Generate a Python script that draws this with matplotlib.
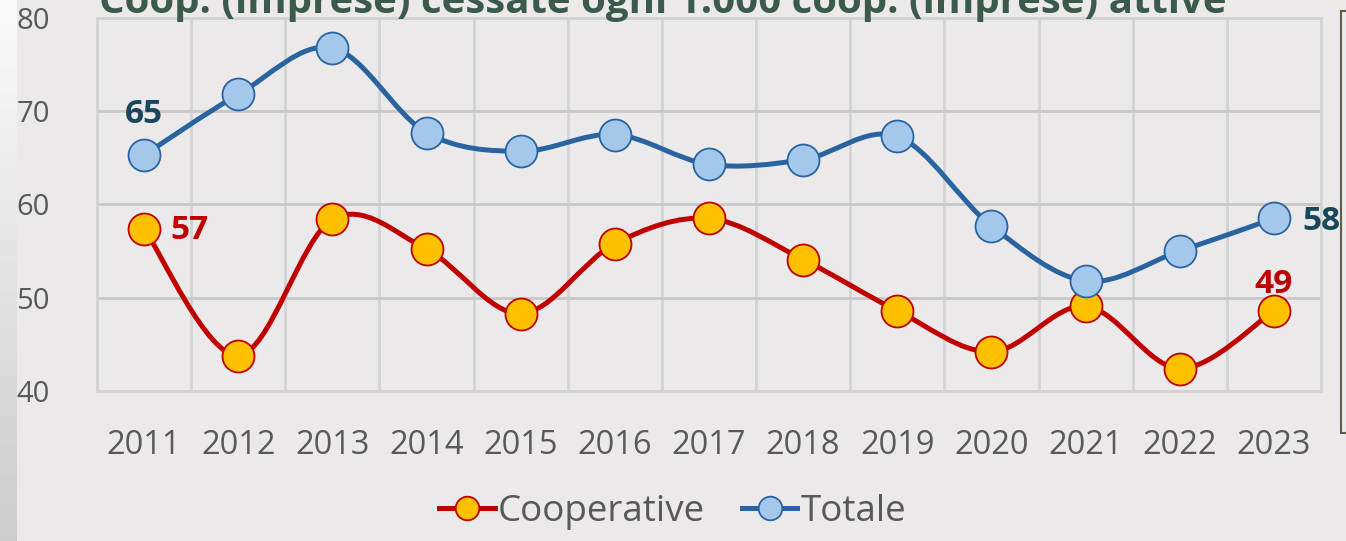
import numpy as np
import matplotlib
matplotlib.use('Agg')
import matplotlib.pyplot as plt
from matplotlib.path import Path
from matplotlib.patches import PathPatch, Rectangle
from matplotlib.lines import Line2D

plt.rcParams['font.family'] = ['Open Sans', 'DejaVu Sans']

years = ['2011', '2012', '2013', '2014', '2015', '2016', '2017',
         '2018', '2019', '2020', '2021', '2022', '2023']
cooperative = [57.4, 43.8, 58.4, 55.2, 48.3, 55.8, 58.5, 54.1, 48.6, 44.2, 49.1, 42.4, 48.6]
totale = [65.3, 71.8, 76.8, 67.7, 65.7, 67.5, 64.3, 64.8, 67.3, 57.7, 51.8, 55.0, 58.5]
title = 'Coop. (imprese) cessate ogni 1.000 coop. (imprese) attive'

BG = '#ebe9ea'
GRID = '#d3d3d3'
RED = '#c00000'
GOLD = '#ffc000'
BLUE = '#2a64a0'
LIGHTBLUE = '#a4c8ec'
TEAL = '#17475c'
TICKC = '#595959'


def smooth_path(xs, ys):
    # excel-like smoothed line: cubic bezier through the points
    pts = np.column_stack([xs, ys]).astype(float)
    n = len(pts)
    verts = [pts[0]]
    codes = [Path.MOVETO]
    for i in range(n - 1):
        p0 = pts[max(i - 1, 0)]
        p1 = pts[i]
        p2 = pts[i + 1]
        p3 = pts[min(i + 2, n - 1)]
        c1 = p1 + (p2 - p0) / 6.0
        c2 = p2 - (p3 - p1) / 6.0
        verts += [c1, c2, p2]
        codes += [Path.CURVE4] * 3
    return Path(verts, codes)


fig = plt.figure(figsize=(13.46, 5.41), dpi=100, facecolor=BG)

# faded photo strip on the left edge
strip = fig.add_axes([0, 0, 17 / 1346, 1])
grad = np.linspace(0.98, 0.80, 100).reshape(-1, 1)
strip.imshow(grad, aspect='auto', cmap='gray', vmin=0, vmax=1)
strip.axis('off')

# box at right edge
fig.patches.append(Rectangle((1341 / 1346, 1 - 433 / 541), 0.01, (433 - 11) / 541,
                             transform=fig.transFigure, facecolor='#ecebec',
                             edgecolor='#5e5e44', linewidth=1.5))

ax = fig.add_axes([97 / 1346, 1 - 391 / 541, (1321 - 97) / 1346, (391 - 18) / 541])
ax.set_facecolor(BG)
x = np.arange(len(years))

for vals, line_c, face_c in [(cooperative, RED, GOLD), (totale, BLUE, LIGHTBLUE)]:
    ax.add_patch(PathPatch(smooth_path(x, vals), facecolor='none', edgecolor=line_c,
                           linewidth=3.6, capstyle='round', zorder=3))
    ax.plot(x, vals, linestyle='none', marker='o', markersize=23,
            markerfacecolor=face_c, markeredgecolor=line_c, markeredgewidth=1.3, zorder=4)

ax.set_xlim(-0.5, len(years) - 0.5)
ax.set_ylim(40, 80)
ax.set_yticks([40, 50, 60, 70, 80])
ax.set_xticks(x)
ax.set_xticklabels(years)
ax.set_xticks(np.arange(-0.5, len(years)), minor=True)
ax.grid(True, which='minor', axis='x', color=GRID, linewidth=2)
ax.grid(True, which='major', axis='y', color='#c8c8c8', linewidth=2)
ax.tick_params(which='both', length=0)
ax.tick_params(axis='x', labelsize=23.5, labelcolor=TICKC, pad=27)
ax.tick_params(axis='y', labelsize=21, labelcolor=TICKC, pad=58)
for lab in ax.get_yticklabels():
    lab.set_horizontalalignment('left')
for s in ax.spines.values():
    s.set_color(GRID)
    s.set_linewidth(2)

# data labels
lab_kw = dict(textcoords='offset points', ha='center', va='center',
              fontsize=24, fontweight='bold')
ax.annotate('65', (0, totale[0]), xytext=(0, 29), color=TEAL, **lab_kw)
ax.annotate('57', (0, cooperative[0]), xytext=(33, -1), color=RED, **lab_kw)
ax.annotate('58', (12, totale[12]), xytext=(34, -2), color=TEAL, **lab_kw)
ax.annotate('49', (12, cooperative[12]), xytext=(0, 19), color=RED, **lab_kw)

fig.text(663 / 1346, 1 - 13 / 541, title, ha='center', va='baseline',
         fontsize=29, fontweight='bold', color='#3b5a4c')

handles = [Line2D([], [], color=RED, linewidth=3.6, marker='o', markersize=17,
                  markerfacecolor=GOLD, markeredgecolor=RED, markeredgewidth=1.3),
           Line2D([], [], color=BLUE, linewidth=3.6, marker='o', markersize=17,
                  markerfacecolor=LIGHTBLUE, markeredgecolor=BLUE, markeredgewidth=1.3)]
fig.legend(handles, ['Cooperative', 'Totale'], loc='center', bbox_to_anchor=(673 / 1346, 1 - 512 / 541),
           ncol=2, frameon=False, fontsize=26.5, labelcolor=TICKC, handlelength=1.5,
           handletextpad=0.1, columnspacing=1.0)

fig.savefig('out.png', dpi=100, facecolor=BG)
